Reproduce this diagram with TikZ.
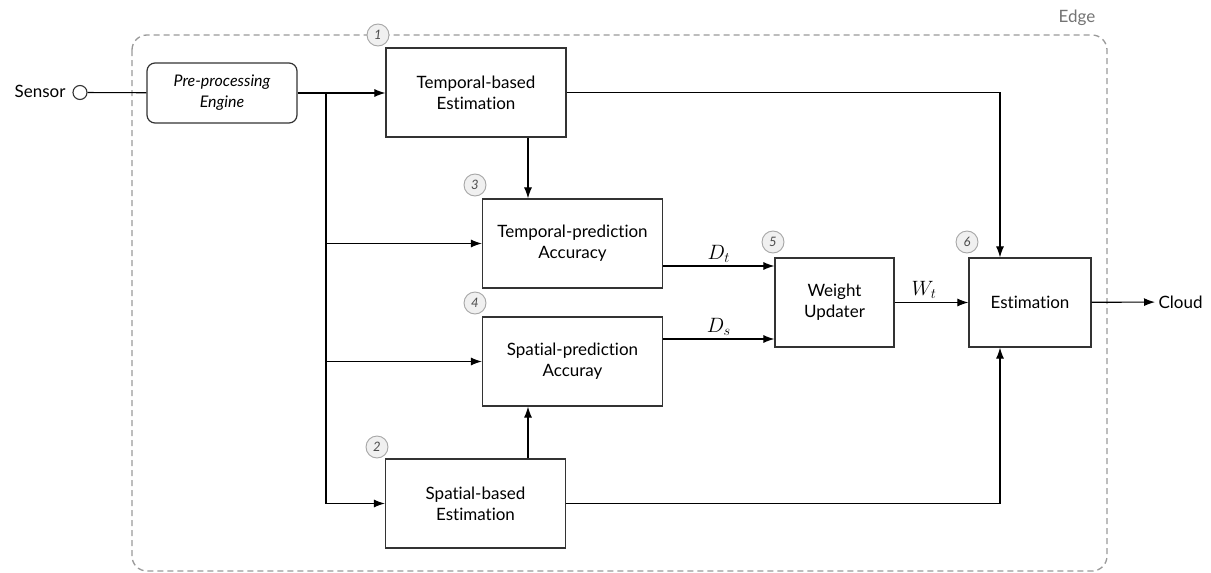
\documentclass[tikz,border=0pt]{standalone}
\usepackage{fontspec}
\setmainfont{Lato}[Ligatures={NoCommon,NoRare,NoDiscretionary,NoContextual}]
\usetikzlibrary{arrows.meta,calc}
\begin{document}
\begin{tikzpicture}[x=1pt,y=-1pt,
  every node/.style={font=\fontsize{17}{21}\selectfont},
  block/.style={draw=black!80, line width=1.2pt, fill=white, minimum width=180pt,
    minimum height=89pt, align=center, inner sep=0pt},
  prebox/.style={draw=black!80, line width=1.2pt, rounded corners=8pt, fill=white,
    minimum width=150pt, minimum height=60pt, align=center, inner sep=0pt,
    font=\fontsize{16}{21}\selectfont\itshape},
  badge/.style={circle, draw=black!35, line width=0.9pt, fill=black!6,
    minimum size=22pt, inner sep=0pt, text=black!70,
    font=\fontsize{13}{13}\selectfont\itshape},
  arr/.style={line width=1.1pt, -{Latex[length=11pt,width=8pt]}},
  link/.style={line width=1.1pt},
  lbl/.style={font=\fontsize{20}{20}\selectfont, above}]
\useasboundingbox (0,0) rectangle (1211,573);

% edge boundary
\draw[black!40, line width=1.3pt, dash pattern=on 6pt off 4pt, rounded corners=15pt]
  (132,35) rectangle (1107,571);
\node[text=black!55] (edge) at (1077,18) {Edge};

% blocks
\node[prebox] (pre) at (222,93) {Pre-processing\\Engine};
\node[block] (tbe) at (476,92.5) {Temporal-based\\Estimation};
\node[block] (tpa) at (572.5,243.5) {Temporal-prediction\\Accuracy};
\node[block] (spa) at (572.5,361.5) {Spatial-prediction\\Accuray};
\node[block] (sbe) at (475.5,503.5) {Spatial-based\\Estimation};
\node[block, minimum width=119pt] (wu) at (834.5,302.5) {Weight\\Updater};
\node[block, minimum width=122pt] (est) at (1030,302.5) {Estimation};

% step badges
\node[badge] (b1) at (378,35) {1};
\node[badge] (b2) at (377,447) {2};
\node[badge] (b3) at (475,185) {3};
\node[badge] (b4) at (475,303) {4};
\node[badge] (b5) at (773,242) {5};
\node[badge] (b6) at (967,242) {6};

% sensor input
\node[circle, draw=black!80, line width=1.1pt, minimum size=14pt, inner sep=0pt, fill=white] (sc) at (80,92.5) {};
\node[anchor=east] (sensor) at (69,91) {Sensor};
\draw[link] (sc) -- (pre);

% distribution from pre-processing
\coordinate (br) at (326,93);
\coordinate (vx) at (528,0);
\coordinate (jx) at (1000,0);
\draw[arr] (pre.east) -- (pre.east -| tbe.west);
\draw[link] (br) -- (br |- sbe.west);
\draw[arr] (br) |- (tpa.west);
\draw[arr] (br) |- (spa.west);
\draw[arr] (br) |- (sbe.west);

% estimations into accuracy blocks
\draw[arr] (tbe.south -| vx) -- (tpa.north -| vx);
\draw[arr] (sbe.north -| vx) -- (spa.south -| vx);

% accuracies into weight updater
\draw[arr] (tpa.east |- 0,266) -- node[lbl] (dt) {$D_t$} (wu.west |- 0,266);
\draw[arr] (spa.east |- 0,339) -- node[lbl] (ds) {$D_s$} (wu.west |- 0,339);
\draw[arr] (wu) -- node[lbl, pos=0.4] (wt) {$W_t$} (est);

% estimations into final estimation
\draw[arr] (tbe.east) -| (est.north -| jx);
\draw[arr] (sbe.east) -| (est.south -| jx);

% output
\node[anchor=west] (cloud) at (1155,302) {Cloud};
\draw[arr] (est) -- (cloud);
\end{tikzpicture}
\end{document}
